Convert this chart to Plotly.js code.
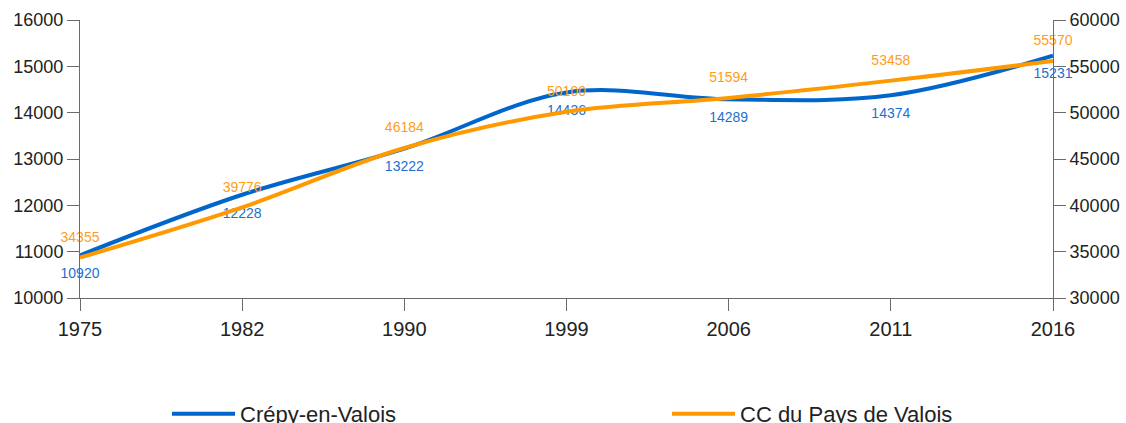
<!DOCTYPE html>
<html>
<head>
<meta charset="utf-8">
<script src="https://cdn.plot.ly/plotly-3.0.1.min.js"></script>
<style>html,body{margin:0;padding:0;background:#fff;}#chart{width:1126px;height:423px;}</style>
</head>
<body>
<div id="chart"></div>
<script>
const years = ["1975", "1982", "1990", "1999", "2006", "2011", "2016"];
const crepy = [10920, 12228, 13222, 14436, 14289, 14374, 15231];
const ccValois = [34355, 39776, 46184, 50100, 51594, 53458, 55570];
const seriesNames = ["Crépy-en-Valois", "CC du Pays de Valois"];

const idx = years.map((_, i) => i);
const font = "Liberation Sans, Arial, sans-serif";

const traces = [
  {
    x: idx, y: crepy, name: seriesNames[0], yaxis: "y", legend: "legend",
    mode: "lines+markers+text", type: "scatter",
    line: {color: "#0066cc", width: 4, shape: "spline", smoothing: 1},
    marker: {size: 18, color: "rgba(0,0,0,0)", line: {width: 0}},
    text: crepy.map(String), textposition: "bottom center",
    textfont: {family: font, size: 14, color: "#1c6fd0"},
    cliponaxis: false
  },
  {
    x: idx, y: ccValois, name: seriesNames[1], yaxis: "y2", legend: "legend2",
    mode: "lines+markers+text", type: "scatter",
    line: {color: "#ff9900", width: 4, shape: "spline", smoothing: 1},
    marker: {size: 18, color: "rgba(0,0,0,0)", line: {width: 0}},
    text: ccValois.map(String), textposition: "top center",
    textfont: {family: font, size: 14, color: "#ff9d1a"},
    cliponaxis: false
  }
];

const axisCommon = {
  showgrid: false, zeroline: false, showline: true,
  linecolor: "#6b6b6b", linewidth: 1,
  ticks: "outside", ticklen: 12, tickcolor: "#6b6b6b",
  tickfont: {family: font, size: 18, color: "#222"},
  fixedrange: true
};

const legendCommon = {
  orientation: "h", xref: "container", yref: "container",
  xanchor: "left", yanchor: "middle", y: 9 / 423,
  font: {family: font, size: 22, color: "#222"},
  bgcolor: "rgba(0,0,0,0)", itemwidth: 63
};

const layout = {
  width: 1126, height: 423,
  margin: {l: 80, r: 73, t: 20, b: 125, autoexpand: false},
  paper_bgcolor: "#fff", plot_bgcolor: "#fff",
  showlegend: true,
  legend: Object.assign({}, legendCommon, {x: 167 / 1126}),
  legend2: Object.assign({}, legendCommon, {x: 667 / 1126}),
  xaxis: Object.assign({}, axisCommon, {
    range: [0, years.length - 1],
    tickvals: idx, ticktext: years,
    ticklabelstandoff: 1,
    tickfont: {family: font, size: 20, color: "#222"}
  }),
  yaxis: Object.assign({}, axisCommon, {
    range: [10000, 16000], dtick: 1000, tickformat: "d"
  }),
  yaxis2: Object.assign({}, axisCommon, {
    range: [30000, 60000], dtick: 5000, tickformat: "d",
    overlaying: "y", side: "right"
  })
};

Plotly.newPlot("chart", traces, layout, {displayModeBar: false, staticPlot: true});
</script>
</body>
</html>
